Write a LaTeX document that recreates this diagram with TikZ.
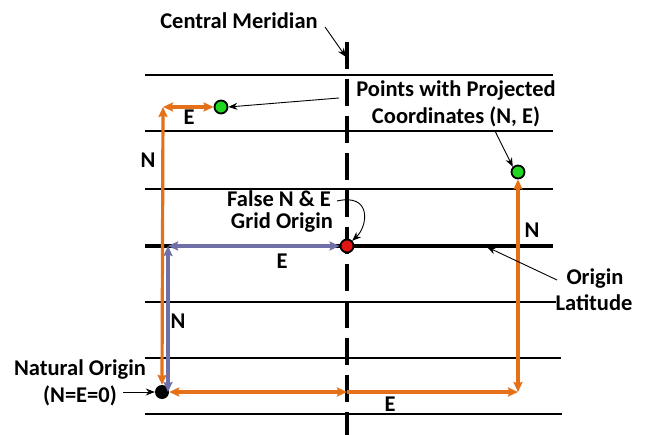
\documentclass[tikz,border=0pt]{standalone}
\usepackage{fontspec}
\setmainfont{Carlito}
\usetikzlibrary{arrows.meta}
\definecolor{gridorange}{RGB}{228,112,24}
\definecolor{gridslate}{RGB}{112,112,168}
\definecolor{ptgreen}{RGB}{30,215,30}
\definecolor{ptred}{RGB}{225,20,20}
\begin{document}
\begin{tikzpicture}[x=1pt,y=-1pt,
  lbl/.style={font=\bfseries\fontsize{22.5}{27}\selectfont, anchor=base, inner sep=0pt},
  gridline/.style={line width=2.2pt},
  meridian/.style={line width=3.4pt, dash pattern=on 27pt off 10pt},
  dimtip/.tip={Stealth[length=10pt,width=9pt,inset=1.5pt]},
  odim/.style={draw=gridorange, line width=3.2pt, dimtip-dimtip},
  odimr/.style={draw=gridorange, line width=3.2pt, -dimtip},
  sdim/.style={draw=gridslate, line width=3.2pt, dimtip-dimtip},
  callout/.style={draw=black, line width=0.9pt, -{Stealth[length=9pt,width=7pt]}},
  pt/.style={circle, draw=black, line width=1.8pt, minimum size=13pt, inner sep=0pt},
]
\useasboundingbox (0,0) rectangle (647,435);

% parallels of latitude
\foreach \y/\xe in {75/553,131/553,189/553,302/556,358/561,414/562}
  \draw[gridline] (145,\y) -- (\xe,\y);
% origin latitude
\draw[line width=3.4pt] (145,246) -- (553,246);
% central meridian
\draw[meridian] (347,42) -- (347,435);

% points
\node[pt, fill=ptgreen] (p1) at (221,107) {};
\node[pt, fill=ptgreen] (p2) at (518,172) {};
\node[pt, fill=ptred] (fo) at (347,246) {};
\node[circle, fill=black, minimum size=14pt, inner sep=0pt] (nat) at (162,392) {};

% corners of the dimension lines
\coordinate (c1) at (163,107);
\coordinate (c2) at (518,392);
\coordinate (cmb) at (347,392);
\coordinate (s1) at (168,246);
\coordinate (s2) at (168,392);

% false easting / northing
\draw[sdim] (s1) -- (s2);
\draw[sdim] (s1) -- (fo.west);

% projected coordinates
\draw[odim] (nat.north) -- (c1);
\draw[odim] (c1) -- (p1.west);
\draw[odim] (nat.east) -- (cmb);
\draw[odimr] (cmb) -- (c2);
\draw[odim] (c2) -- (p2.south);

% labels
\node[lbl] (cmlabel) at (239,29) {Central Meridian};
\node[lbl] (pts1) at (456,97) {Points with Projected};
\node[lbl] (pts2) at (456,124) {Coordinates (N, E)};
\node[lbl] (fne1) at (279,207) {False N \& E};
\node[lbl] (fne2) at (282,229) {Grid Origin};
\node[lbl] (ol1) at (595,285) {Origin};
\node[lbl] (ol2) at (594,310) {Latitude};
\node[lbl] (no1) at (80,375) {Natural Origin};
\node[lbl] (no2) at (80,402) {(N=E=0)};

\node[lbl] (e1) at (189,125) {E};
\node[lbl] (n1) at (148,168) {N};
\node[lbl] (e2) at (282,269) {E};
\node[lbl] (n2) at (178,328) {N};
\node[lbl] (n3) at (532,238) {N};
\node[lbl] (e3) at (390,411) {E};

% callout tails
\coordinate (cmtail) at (325,27);
\coordinate (cmhead) at (346,57);
\coordinate (pt1tail) at (339,98);
\coordinate (pt2tail) at (495,131);
\coordinate (fnetail) at (337,201);
\coordinate (oltail) at (557,280);
\coordinate (olhead) at (487,247);
\coordinate (notail) at (123,392);

% callouts
\draw[callout] (cmtail) -- (cmhead);
\draw[callout] (pt1tail) -- (p1.east);
\draw[callout] (pt2tail) -- (p2.north west);
\draw[callout] (fnetail) .. controls (372,193) and (368,226) .. (fo.north east);
\draw[callout] (oltail) -- (olhead);
\draw[callout] (notail) -- (nat.west);
\end{tikzpicture}
\end{document}
